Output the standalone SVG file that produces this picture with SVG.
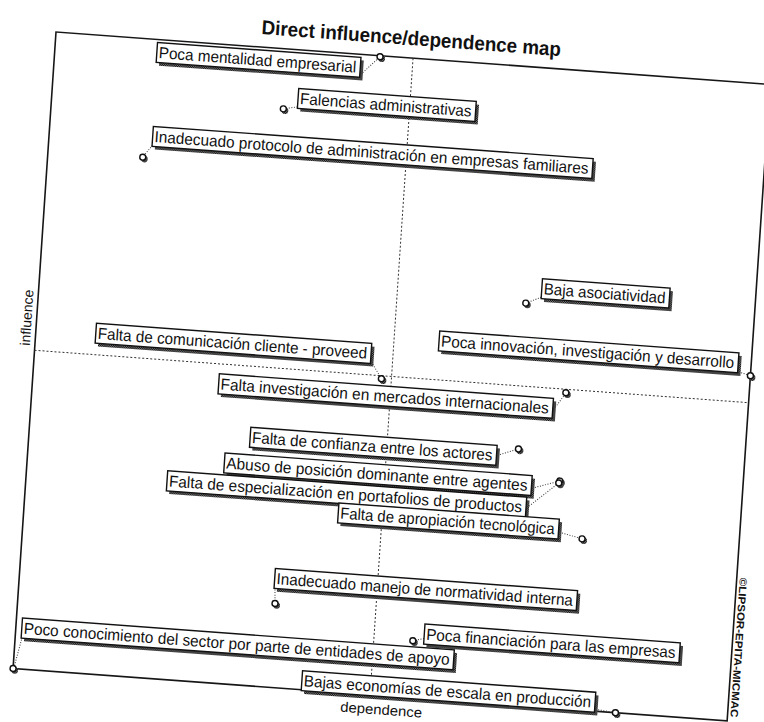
<svg xmlns="http://www.w3.org/2000/svg" width="764" height="722" viewBox="0 0 764 722">
  <style>
    .frame{fill:none;stroke:#161616;stroke-width:1.6}
    .axis{fill:none;stroke:#333;stroke-width:1;stroke-dasharray:2 2}
    .lead{fill:none;stroke:#333;stroke-width:1;stroke-dasharray:1 1.6}
    .box{fill:#fff;stroke:#111;stroke-width:1.4}
    .shadow{fill:url(#hatch)}
    .lbl{font-family:"Liberation Sans",Arial,sans-serif;font-size:16px;fill:#111}
    .title{font-family:"Liberation Sans",Arial,sans-serif;font-size:20px;font-weight:bold;fill:#111}
    .axlbl{font-family:"Liberation Sans",Arial,sans-serif;font-size:14px;fill:#111}
    .copy{font-family:"Liberation Sans",Arial,sans-serif;font-size:10.5px;font-weight:bold;fill:#111}
  </style>
  <defs>
    <pattern id="hatch" width="2" height="2" patternUnits="userSpaceOnUse">
      <rect width="2" height="2" fill="#777"/>
      <rect width="1" height="1" fill="#111"/>
      <rect x="1" y="1" width="1" height="1" fill="#111"/>
    </pattern>
    <g id="pin">
      <circle cx="1.8" cy="1.8" r="3.3" fill="url(#hatch)"/>
      <circle r="3" fill="#fff" stroke="#111" stroke-width="1.4"/>
    </g>
  </defs>
  <rect width="764" height="722" fill="#fff"/>

  <!-- plot area, slightly skewed as printed -->
  <g transform="matrix(0.9973 0.0732 -0.0673 0.9977 56 32)">
    <text class="title" x="355" y="-13" text-anchor="middle" textLength="300" lengthAdjust="spacingAndGlyphs">Direct influence/dependence map</text>

    <rect class="frame" x="0" y="0" width="716" height="638"/>
    <line class="axis" x1="358" y1="0" x2="358" y2="638"/>
    <line class="axis" x1="0" y1="319" x2="716" y2="319"/>

    <text class="axlbl" transform="translate(-5 287) rotate(-90)" text-anchor="middle">influence</text>
    <text class="axlbl" x="370" y="657" text-anchor="middle" textLength="82" lengthAdjust="spacingAndGlyphs">dependence</text>
    <text class="copy" transform="translate(719 494) rotate(90)" textLength="140" lengthAdjust="spacingAndGlyphs">©LIPSOR-EPITA-MICMAC</text>

    <!-- leader lines from labels to their points -->
    <g id="connectors">
      <line class="lead" x1="307" y1="20" x2="325" y2="1"/>
      <line class="lead" x1="246" y1="57" x2="232" y2="60"/>
      <line class="lead" x1="104" y1="106" x2="95" y2="118"/>
      <line class="lead" x1="502" y1="229" x2="487" y2="236"/>
      <line class="lead" x1="704" y1="289" x2="716" y2="292"/>
      <line class="lead" x1="337" y1="306" x2="348" y2="322"/>
      <line class="lead" x1="522" y1="340" x2="533" y2="323"/>
      <line class="lead" x1="469" y1="390" x2="489" y2="382"/>
      <line class="lead" x1="506" y1="420" x2="533" y2="411"/>
      <line class="lead" x1="502" y1="440" x2="532" y2="413"/>
      <line class="lead" x1="536" y1="462" x2="559" y2="467"/>
      <line class="lead" x1="256" y1="540" x2="257" y2="554"/>
      <line class="lead" x1="408" y1="578" x2="397" y2="581"/>
      <line class="lead" x1="7" y1="606" x2="1" y2="636"/>
      <line class="lead" x1="584" y1="636" x2="604" y2="638"/>
    </g>

    <g id="n1">
      <rect class="shadow" x="105" y="6" width="204" height="20"/>
      <rect class="box" x="102" y="3" width="204" height="20"/>
      <text class="lbl" x="104" y="18.5" textLength="198" lengthAdjust="spacingAndGlyphs">Poca mentalidad empresarial</text>
      <use href="#pin" x="325" y="1"/>
    </g>
    <g id="n2">
      <rect class="shadow" x="249" y="41.5" width="178" height="20"/>
      <rect class="box" x="246" y="38.5" width="178" height="20"/>
      <text class="lbl" x="248" y="54" textLength="172" lengthAdjust="spacingAndGlyphs">Falencias administrativas</text>
      <use href="#pin" x="232" y="60"/>
    </g>
    <g id="n3">
      <rect class="shadow" x="106.5" y="90" width="441" height="20"/>
      <rect class="box" x="103.5" y="87" width="441" height="20"/>
      <text class="lbl" x="105.5" y="102.5" textLength="435" lengthAdjust="spacingAndGlyphs">Inadecuado protocolo de administración en empresas familiares</text>
      <use href="#pin" x="95" y="118.5"/>
    </g>
    <g id="n4">
      <rect class="shadow" x="505" y="213.5" width="128" height="20"/>
      <rect class="box" x="502" y="210.5" width="128" height="20"/>
      <text class="lbl" x="504" y="226" textLength="122" lengthAdjust="spacingAndGlyphs">Baja asociatividad</text>
      <use href="#pin" x="487" y="236"/>
    </g>
    <g id="n5">
      <rect class="shadow" x="406" y="273" width="300" height="20"/>
      <rect class="box" x="403" y="270" width="300" height="20"/>
      <text class="lbl" x="405" y="285.5" textLength="294" lengthAdjust="spacingAndGlyphs">Poca innovación, investigación y desarrollo</text>
      <use href="#pin" x="716" y="292"/>
    </g>
    <g id="n6">
      <rect class="shadow" x="63" y="290.5" width="276" height="20"/>
      <rect class="box" x="60" y="287.5" width="276" height="20"/>
      <text class="lbl" x="62" y="303" textLength="270" lengthAdjust="spacingAndGlyphs">Falta de comunicación cliente - proveed</text>
      <use href="#pin" x="348" y="322"/>
    </g>
    <g id="n7">
      <rect class="shadow" x="189" y="332" width="335" height="20"/>
      <rect class="box" x="186" y="329" width="335" height="20"/>
      <text class="lbl" x="188" y="344.5" textLength="329" lengthAdjust="spacingAndGlyphs">Falta investigación en mercados internacionales</text>
      <use href="#pin" x="533" y="322.5"/>
    </g>
    <g id="n8">
      <rect class="shadow" x="224" y="383" width="247" height="20"/>
      <rect class="box" x="221" y="380" width="247" height="20"/>
      <text class="lbl" x="223" y="395.5" textLength="241" lengthAdjust="spacingAndGlyphs">Falta de confianza entre los actores</text>
      <use href="#pin" x="489.5" y="382"/>
    </g>
    <g id="n9">
      <rect class="shadow" x="200" y="410.5" width="308" height="20"/>
      <rect class="box" x="197" y="407.5" width="308" height="20"/>
      <text class="lbl" x="199" y="423" textLength="302" lengthAdjust="spacingAndGlyphs">Abuso de posición dominante entre agentes</text>
      <use href="#pin" x="533" y="411"/>
    </g>
    <g id="n10">
      <rect class="shadow" x="144" y="432.5" width="360" height="20"/>
      <rect class="box" x="141" y="429.5" width="360" height="20"/>
      <text class="lbl" x="143" y="445" textLength="354" lengthAdjust="spacingAndGlyphs">Falta de especialización en portafolios de productos</text>
      <use href="#pin" x="532" y="413"/>
    </g>
    <g id="n11">
      <rect class="shadow" x="317" y="452" width="221" height="20"/>
      <rect class="box" x="314" y="449" width="221" height="20"/>
      <text class="lbl" x="316" y="464.5" textLength="215" lengthAdjust="spacingAndGlyphs">Falta de apropiación tecnológica</text>
      <use href="#pin" x="559" y="467"/>
    </g>
    <g id="n12">
      <rect class="shadow" x="258" y="522" width="303" height="20"/>
      <rect class="box" x="255" y="519" width="303" height="20"/>
      <text class="lbl" x="257" y="534.5" textLength="297" lengthAdjust="spacingAndGlyphs">Inadecuado manejo de normatividad interna</text>
      <use href="#pin" x="257" y="554"/>
    </g>
    <g id="n13">
      <rect class="shadow" x="411" y="566.5" width="256" height="20"/>
      <rect class="box" x="408" y="563.5" width="256" height="20"/>
      <text class="lbl" x="410" y="579" textLength="250" lengthAdjust="spacingAndGlyphs">Poca financiación para las empresas</text>
      <use href="#pin" x="397" y="581"/>
    </g>
    <g id="n14">
      <rect class="shadow" x="9" y="590" width="433" height="20"/>
      <rect class="box" x="6" y="587" width="433" height="20"/>
      <text class="lbl" x="8" y="602.5" textLength="427" lengthAdjust="spacingAndGlyphs">Poco conocimiento del sector por parte de entidades de apoyo</text>
      <use href="#pin" x="0" y="638"/>
    </g>
    <g id="n15">
      <rect class="shadow" x="292" y="622" width="294" height="20"/>
      <rect class="box" x="289" y="619" width="294" height="20"/>
      <text class="lbl" x="291" y="634.5" textLength="288" lengthAdjust="spacingAndGlyphs">Bajas economías de escala en producción</text>
      <use href="#pin" x="604" y="638"/>
    </g>
  </g>
</svg>
